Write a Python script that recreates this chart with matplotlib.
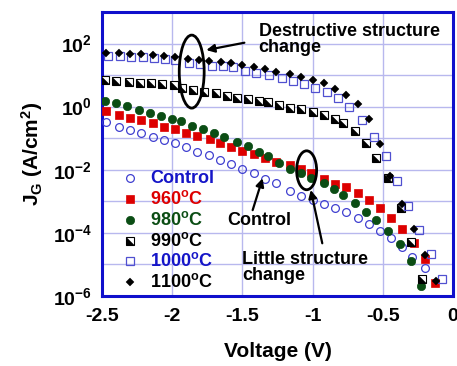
import numpy as np
import matplotlib
matplotlib.use('Agg')
import matplotlib.pyplot as plt
from matplotlib.patches import Ellipse
from matplotlib.path import Path

plt.rcParams['font.family'] = 'Liberation Sans'
plt.rcParams['font.weight'] = 'bold'
plt.rcParams['mathtext.fontset'] = 'custom'
plt.rcParams['mathtext.rm'] = 'Liberation Sans:bold'
plt.rcParams['mathtext.bf'] = 'Liberation Sans:bold'
plt.rcParams['mathtext.it'] = 'Liberation Sans:bold'

# voltage (V) and log10 of J_G (A/cm^2)
v_ctrl = [-2.47, -2.38, -2.30, -2.22, -2.14, -2.06, -1.98, -1.90, -1.82, -1.74,
          -1.66, -1.58, -1.50, -1.42, -1.34, -1.26, -1.16, -1.08, -1.00, -0.92,
          -0.84, -0.76, -0.68, -0.60, -0.52, -0.44, -0.36, -0.29, -0.20]
lj_ctrl = [-0.49, -0.63, -0.73, -0.82, -0.95, -1.05, -1.15, -1.28, -1.43, -1.53,
           -1.68, -1.82, -1.98, -2.11, -2.29, -2.43, -2.67, -2.82, -2.96, -3.08,
           -3.20, -3.33, -3.54, -3.72, -3.93, -4.17, -4.46, -4.75, -5.12]

v_960 = [-2.47, -2.38, -2.30, -2.22, -2.14, -2.06, -1.98, -1.90, -1.82, -1.73,
         -1.66, -1.58, -1.50, -1.42, -1.34, -1.26, -1.16, -1.08, -1.01, -0.92,
         -0.84, -0.76, -0.68, -0.60, -0.52, -0.44, -0.36, -0.28, -0.20, -0.13]
lj_960 = [-0.14, -0.27, -0.35, -0.42, -0.53, -0.64, -0.72, -0.83, -0.93, -1.03,
          -1.16, -1.29, -1.40, -1.51, -1.62, -1.74, -1.85, -1.98, -2.09, -2.30,
          -2.44, -2.54, -2.73, -2.96, -3.22, -3.54, -3.89, -4.31, -4.83, -5.58]

v_980 = [-2.48, -2.40, -2.32, -2.24, -2.16, -2.08, -2.00, -1.94, -1.86, -1.78,
         -1.70, -1.63, -1.54, -1.46, -1.38, -1.32, -1.24, -1.16, -1.08, -1.01,
         -0.92, -0.85, -0.78, -0.70, -0.62, -0.55, -0.46, -0.38, -0.30, -0.23]
lj_980 = [0.19, 0.12, 0.01, -0.10, -0.19, -0.29, -0.39, -0.46, -0.60, -0.72,
          -0.84, -0.95, -1.11, -1.25, -1.45, -1.56, -1.78, -1.97, -2.11, -2.26,
          -2.43, -2.62, -2.80, -3.06, -3.33, -3.59, -3.93, -4.36, -4.88, -5.68]

v_990 = [-2.48, -2.40, -2.31, -2.23, -2.15, -2.07, -1.99, -1.93, -1.85, -1.77,
         -1.69, -1.61, -1.54, -1.46, -1.38, -1.32, -1.24, -1.16, -1.08, -1.00,
         -0.92, -0.84, -0.78, -0.70, -0.62, -0.55, -0.46, -0.37, -0.30, -0.22]
lj_990 = [0.84, 0.81, 0.78, 0.76, 0.74, 0.72, 0.69, 0.58, 0.53, 0.47,
          0.44, 0.34, 0.28, 0.23, 0.18, 0.16, 0.05, -0.03, -0.07, -0.16,
          -0.26, -0.40, -0.51, -0.77, -1.16, -1.62, -2.27, -3.22, -4.30, -5.45]

v_1000 = [-2.46, -2.37, -2.29, -2.21, -2.13, -2.05, -1.98, -1.88, -1.80, -1.72,
          -1.64, -1.57, -1.48, -1.40, -1.31, -1.22, -1.14, -1.06, -0.98, -0.90,
          -0.82, -0.74, -0.65, -0.56, -0.48, -0.40, -0.32, -0.24, -0.16, -0.08]
lj_1000 = [1.61, 1.60, 1.58, 1.56, 1.54, 1.52, 1.48, 1.37, 1.35, 1.30,
           1.30, 1.25, 1.14, 1.08, 1.00, 0.90, 0.82, 0.71, 0.58, 0.47,
           0.28, 0.00, -0.42, -0.95, -1.56, -2.35, -3.14, -3.91, -4.67, -5.45]

v_1100 = [-2.47, -2.38, -2.30, -2.22, -2.14, -2.06, -1.98, -1.89, -1.81, -1.74,
          -1.65, -1.58, -1.50, -1.42, -1.34, -1.26, -1.16, -1.08, -1.00, -0.92,
          -0.84, -0.76, -0.68, -0.60, -0.52, -0.45, -0.36, -0.28, -0.20, -0.12]
lj_1100 = [1.71, 1.69, 1.67, 1.66, 1.63, 1.60, 1.56, 1.50, 1.48, 1.44,
           1.40, 1.37, 1.32, 1.25, 1.18, 1.11, 1.03, 0.94, 0.84, 0.74,
           0.56, 0.37, 0.08, -0.40, -1.19, -2.19, -3.09, -3.89, -4.69, -5.52]

labels = ['Control', '960$^{\\mathbf{o}}$C', '980$^{\\mathbf{o}}$C',
          '990$^{\\mathbf{o}}$C', '1000$^{\\mathbf{o}}$C', '1100$^{\\mathbf{o}}$C']
label_colors = ['#1515C8', '#DD0000', '#0B4D14', 'black', '#1515C8', 'black']

# lower-left half of a square, for the half-filled 990 marker
half_tri = Path([(-1, 1), (-1, -1), (1, -1), (-1, 1)])

fig = plt.figure(figsize=(4.57, 3.66), dpi=100)
ax = fig.add_axes([0.2232, 0.1913, 0.768, 0.776])


def draw(axis, x, y, kind, **kw):
    if kind == 'ctrl':
        axis.plot(x, y, 'o', ms=5.6, mfc='none', mec='#4040D0', mew=0.9, **kw)
    elif kind == '960':
        axis.plot(x, y, 's', ms=5.6, mfc='#DD0000', mec='#DD0000', mew=0.5, **kw)
    elif kind == '980':
        axis.plot(x, y, 'o', ms=6.0, mfc='#0B4D14', mec='#0B4D14', mew=0.5, **kw)
    elif kind == '990':
        axis.plot(x, y, 's', ms=5.4, mfc='white', mec='black', mew=0.8, **kw)
        axis.plot(x, y, marker=half_tri, ls='none', ms=5.4, mfc='black',
                  mec='black', mew=0.3, **kw)
    elif kind == '1000':
        axis.plot(x, y, 's', ms=6.0, mfc='none', mec='#5050D0', mew=0.9, **kw)
    elif kind == '1100':
        axis.plot(x, y, 'D', ms=4.2, mfc='black', mec='black', mew=0.3, **kw)


kinds = ['ctrl', '960', '980', '990', '1000', '1100']
series = [(v_ctrl, lj_ctrl), (v_960, lj_960), (v_980, lj_980),
          (v_990, lj_990), (v_1000, lj_1000), (v_1100, lj_1100)]
for k, (v, lj) in zip(kinds, series):
    draw(ax, v, 10 ** np.array(lj), k, zorder=3)

ax.set_yscale('log')
ax.set_xlim(-2.5, 0)
ax.set_ylim(1e-6, 1e3)
ax.set_xticks([-2.5, -2, -1.5, -1, -0.5, 0])
ax.set_xticklabels(['-2.5', '-2', '-1.5', '-1', '-0.5', '0'])
decades = list(range(-6, 3))
ax.set_yticks([10.0 ** d for d in decades])
ax.set_yticklabels([('$\\mathbf{10^{%d}}$' % d) if d % 2 == 0 else '' for d in decades])
ax.minorticks_off()
ax.tick_params(length=0, labelsize=14, pad=7)
ax.tick_params(axis='x', pad=9)
ax.grid(True, color='#B8B8EE', lw=1.0)
ax.set_axisbelow(True)
for s in ax.spines.values():
    s.set_color('#1010CC')
    s.set_linewidth(2.2)

ax.set_xlabel('Voltage (V)', fontsize=15, fontweight='bold', labelpad=12)
ax.set_ylabel('J$_{\\mathbf{G}}$ (A/cm$^{\\mathbf{2}}$)', fontsize=15,
              fontweight='bold', labelpad=6)

# legend drawn by hand inside the axes
rows = [0.414, 0.342, 0.268, 0.195, 0.123, 0.048]
for k, lab, col, yr in zip(kinds, labels, label_colors, rows):
    draw(ax, [0.08], [yr], k, transform=ax.transAxes, clip_on=False, zorder=4)
    ax.text(0.137, yr, lab, transform=ax.transAxes, color=col, fontsize=13,
            fontweight='bold', va='center', ha='left')

# annotations
ax.add_patch(Ellipse((0.2556, 0.790), 0.071, 0.257, transform=ax.transAxes,
                     fill=False, lw=2, ec='black', zorder=5))
ax.add_patch(Ellipse((0.583, 0.4426), 0.057, 0.137, transform=ax.transAxes,
                     fill=False, lw=2, ec='black', zorder=5))
arrow = dict(arrowstyle='-|>', lw=1.6, color='black', mutation_scale=12,
             shrinkA=0, shrinkB=0)
ax.annotate('', xy=(-1.757, 62), xytext=(-1.486, 106), arrowprops=arrow)
ax.text(-1.384, 132, 'Destructive structure\nchange', fontsize=13,
        fontweight='bold', va='center', ha='left', linespacing=0.95)
ax.annotate('', xy=(-1.013, 10 ** -2.64), xytext=(-0.931, 10 ** -4.33),
            arrowprops=arrow)
ax.text(-1.502, 10 ** -5.10, 'Little structure\nchange', fontsize=13,
        fontweight='bold', va='center', ha='left', linespacing=0.95)
ax.annotate('', xy=(-1.356, 10 ** -2.27), xytext=(-1.427, 10 ** -3.28),
            arrowprops=arrow)
ax.text(-1.611, 10 ** -3.62, 'Control', fontsize=13, fontweight='bold',
        va='center', ha='left')

fig.savefig('out.png', dpi=100)
